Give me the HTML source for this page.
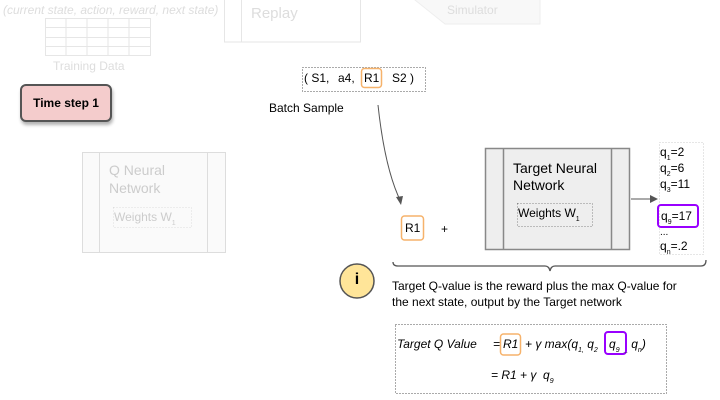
<!DOCTYPE html>
<html><head><style>
body{margin:0;width:720px;height:400px;overflow:hidden;background:#fff;font-family:"Liberation Sans",sans-serif;position:relative}
.a{position:absolute}
.t{position:absolute;white-space:nowrap;line-height:14px}
.s{font-size:7px;position:relative;top:4px;line-height:0}
</style></head><body>
<div class="t" style="left:3px;top:3px;font-size:12px;font-style:italic;color:#ddd">(current state, action, reward, next state)</div>
<svg class="a" style="left:0;top:0" width="720" height="400">
<g stroke="#e6e6e6" fill="none">
<rect x="45.5" y="18.5" width="105" height="37"/>
<line x1="66" y1="18" x2="66" y2="55"/><line x1="87" y1="18" x2="87" y2="55"/><line x1="108" y1="18" x2="108" y2="55"/><line x1="129" y1="18" x2="129" y2="55"/>
<line x1="45" y1="27.5" x2="150" y2="27.5"/><line x1="45" y1="37.5" x2="150" y2="37.5"/><line x1="45" y1="46.5" x2="150" y2="46.5"/>
<rect x="224.5" y="-10" width="136" height="52"/><line x1="241.5" y1="-10" x2="241.5" y2="42"/>
</g>
<polygon points="415,-10 540,-10 540,24 445,24 415,0" fill="#f8f8f8" stroke="#eee"/>
<rect x="82.5" y="152.5" width="143" height="100" fill="#fafafa" stroke="#ddd"/>
<line x1="99.5" y1="152" x2="99.5" y2="252" stroke="#ddd"/><line x1="207.5" y1="152" x2="207.5" y2="252" stroke="#ddd"/>
<rect x="113.5" y="207.5" width="78" height="20" fill="none" stroke="#ddd" stroke-dasharray="1,2"/>
<rect x="302.5" y="67.5" width="123" height="24" fill="none" stroke="#555" stroke-dasharray="1,2"/>
<rect x="361.5" y="68.5" width="20" height="19" rx="3" fill="none" stroke="#f6b26b" stroke-width="1.5"/>
<path d="M378,105 Q385,170 401,202" fill="none" stroke="#555"/>
<polygon points="401,205 396,197 403,196" fill="#555"/>
<rect x="401.5" y="216" width="22" height="24" rx="3" fill="none" stroke="#f6b26b" stroke-width="1.5"/>
<rect x="485.5" y="148.5" width="144" height="101" fill="#eee" stroke="#888" stroke-width="1.5"/>
<line x1="503.5" y1="148" x2="503.5" y2="249" stroke="#888" stroke-width="1.5"/><line x1="611.5" y1="148" x2="611.5" y2="249" stroke="#888" stroke-width="1.5"/>
<rect x="517.5" y="203.5" width="75" height="23" fill="none" stroke="#888" stroke-dasharray="1,2"/>
<line x1="631" y1="199" x2="651" y2="199" stroke="#555"/><polygon points="658,199 650,195 650,203" fill="#555"/>
<rect x="659.5" y="142.5" width="44" height="112" fill="none" stroke="#ccc" stroke-dasharray="1,2"/>
<rect x="658" y="205" width="40" height="22" rx="3" fill="none" stroke="#9900ff" stroke-width="2"/>
<path d="M393,262 Q393,266 398,266 L545,266 Q549,266 550,271 Q551,266 555,266 L701,266 Q706,266 706,260" fill="none" stroke="#555" stroke-width="1.3"/>
<circle cx="357" cy="281" r="17" fill="#ffe599" stroke="#555" stroke-width="1.5"/>
<rect x="395.5" y="324.5" width="271" height="69" fill="none" stroke="#555" stroke-dasharray="1,2"/>
<rect x="500.5" y="334" width="20" height="21" rx="3" fill="none" stroke="#f6b26b" stroke-width="1.5"/>
<rect x="605" y="332" width="21" height="22" rx="3" fill="none" stroke="#9900ff" stroke-width="2"/>
</svg>
<div class="t" style="left:251px;top:7px;font-size:15px;color:#ddd">Replay</div>
<div class="t" style="left:447px;top:3px;font-size:12px;color:#ddd">Simulator</div>
<div class="t" style="left:53px;top:59px;font-size:12px;color:#ddd">Training Data</div>
<div class="a" style="left:20px;top:84px;width:88px;height:34px;background:#f4cccc;border:2px solid #555;border-radius:6px;box-shadow:1px 3px 3px rgba(0,0,0,.3);font-size:12px;font-weight:bold;line-height:34px;text-align:center">Time step 1</div>
<div class="t" style="left:109px;top:161px;font-size:14px;color:#ccc;line-height:18px">Q Neural<br>Network</div>
<div class="t" style="left:114px;top:210px;font-size:12px;color:#ccc">Weights W<span class="s">1</span></div>
<div class="t" style="left:304px;top:71px;font-size:12px">( S1,</div>
<div class="t" style="left:338px;top:71px;font-size:12px">a4,</div>
<div class="t" style="left:364px;top:71px;font-size:12px">R1</div>
<div class="t" style="left:392px;top:71px;font-size:12px">S2 )</div>
<div class="t" style="left:269px;top:101px;font-size:12px">Batch Sample</div>
<div class="t" style="left:405px;top:221px;font-size:12px">R1</div>
<div class="t" style="left:441px;top:222px;font-size:12px">+</div>
<div class="t" style="left:513px;top:160px;font-size:14px;line-height:17px">Target Neural<br>Network</div>
<div class="t" style="left:518px;top:206px;font-size:12px">Weights W<span class="s">1</span></div>
<div class="t" style="left:660px;top:144px;font-size:12px;line-height:16px">q<span class="s">1</span>=2<br>q<span class="s">2</span>=6<br>q<span class="s">3</span>=11</div>
<div class="t" style="left:661px;top:209px;font-size:12px">q<span class="s">9</span>=17</div>
<div class="t" style="left:660px;top:226px;font-size:10px">...</div>
<div class="t" style="left:660px;top:239px;font-size:12px">q<span class="s">n</span>=.2</div>
<div class="t" style="left:340px;top:273px;width:34px;text-align:center;font-size:16px;font-weight:bold">i</div>
<div class="t" style="left:392px;top:278px;font-size:12px;line-height:16px">Target Q-value is the reward plus the max Q-value for<br>the next state, output by the Target network</div>
<div class="t" style="left:397px;top:337px;font-size:12px;font-style:italic">Target Q Value</div>
<div class="t" style="left:493px;top:337px;font-size:12px;font-style:italic">=</div>
<div class="t" style="left:503px;top:337px;font-size:12px;font-style:italic">R1</div>
<div class="t" style="left:525px;top:337px;font-size:12px;font-style:italic">+ γ max(q<span class="s">1,</span> q<span class="s">2</span></div>
<div class="t" style="left:609px;top:337px;font-size:12px;font-style:italic">q<span class="s">9</span></div>
<div class="t" style="left:624px;top:337px;font-size:12px;font-style:italic"><span class="s">_</span> q<span class="s">n</span>)</div>
<div class="t" style="left:491px;top:368px;font-size:12px;font-style:italic">= R1 + γ&nbsp; q<span class="s">9</span></div>
</body></html>
